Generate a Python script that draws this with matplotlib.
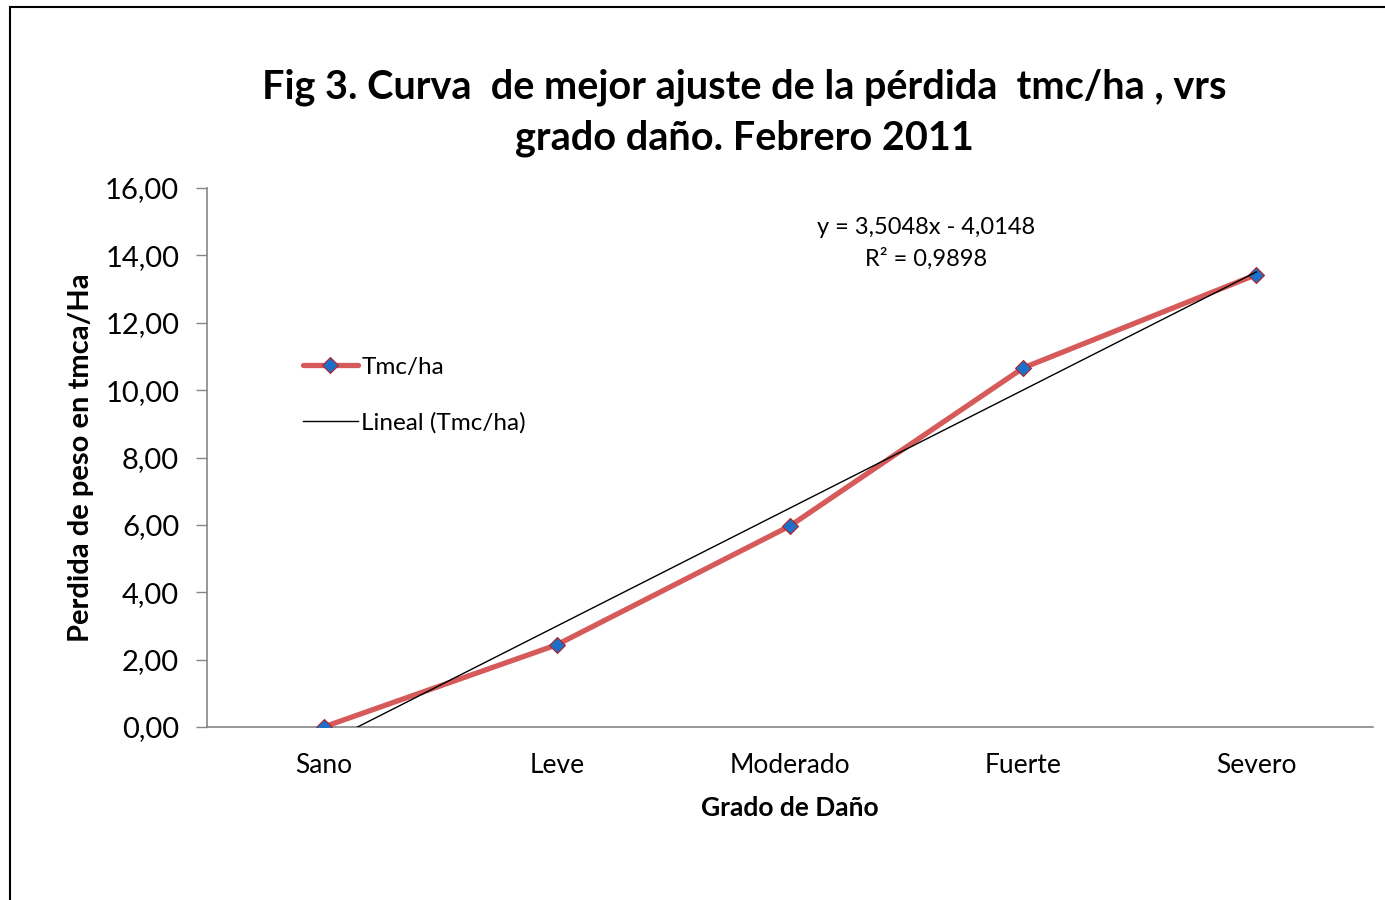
import numpy as np
import matplotlib
matplotlib.use("Agg")
import matplotlib.pyplot as plt
from matplotlib.patches import Rectangle
from matplotlib.ticker import FuncFormatter

## data
categorias = ["Sano", "Leve", "Moderado", "Fuerte", "Severo"]
tmc_ha = [0.00, 2.44, 5.97, 10.66, 13.43]
pendiente = 3.5048
intercepto = -4.0148
r2 = 0.9898

plt.rcParams["font.family"] = ["Lato", "DejaVu Sans"]

W, H = 1385, 900
fig = plt.figure(figsize=(W / 100, H / 100), dpi=100)

# outer chart border
fig.patches.append(Rectangle((10/W, -0.1), 1.2, (1 - 7/H) + 0.1, transform=fig.transFigure,
                             fill=False, edgecolor="black", lw=1.5))

ax = fig.add_axes([207/W, 173/H, 1166/W, 539/H])

x = np.arange(len(categorias)) + 0.5
ax.plot(x, tmc_ha, color="#D65A5A", lw=3.8, solid_capstyle="round", zorder=3,
        marker="D", ms=8.5, mfc="#1F6FC8", mec="#B22222", mew=0.8, label="Tmc/ha")

# trend line (x = 1..n in Excel terms)
xt = np.array([1, len(categorias)])
ax.plot(xt - 0.5, pendiente * xt + intercepto, color="black", lw=1.0, zorder=4,
        label="Lineal (Tmc/ha)")

ax.set_xlim(0, len(categorias))
ax.set_ylim(0, 16)
ax.set_yticks(np.arange(0, 17, 2))
ax.yaxis.set_major_formatter(FuncFormatter(lambda v, p: f"{v:.2f}".replace(".", ",")))
ax.set_xticks(x)
ax.set_xticklabels(categorias)
ax.tick_params(axis="x", length=0, pad=19, labelsize=19)
ax.tick_params(axis="y", length=8, width=1, color="#868686", pad=12, labelsize=21)

for s in ["top", "right"]:
    ax.spines[s].set_visible(False)
for s in ["left", "bottom"]:
    ax.spines[s].set_color("#868686")
    ax.spines[s].set_linewidth(1.2)

ax.set_xlabel("Grado de Daño", fontsize=19, fontweight="bold", labelpad=13)
ax.set_ylabel("Perdida de peso en tmca/Ha", fontsize=21, fontweight="bold", labelpad=8)

ax.text(926/W, 1 - 227/H, f"y = {pendiente:.4f}x - {abs(intercepto):.4f}".replace(".", ","),
        transform=fig.transFigure, ha="center", va="center", fontsize=17)
ax.text(926/W, 1 - 259/H, f"R² = {r2:.4f}".replace(".", ","),
        transform=fig.transFigure, ha="center", va="center", fontsize=17)

fig.text(744/W, 1 - 87/H, "Fig 3. Curva  de mejor ajuste de la pérdida  tmc/ha , vrs",
         ha="center", va="center", fontsize=28.5, fontweight="bold")
fig.text(744/W, 1 - 138/H, "grado daño. Febrero 2011",
         ha="center", va="center", fontsize=28.5, fontweight="bold")

leg = ax.legend(loc="upper left", bbox_to_anchor=(281/W, 1 - 335/H),
                bbox_transform=fig.transFigure, frameon=False, fontsize=17.5,
                handlelength=2.25, handletextpad=0.15, labelspacing=1.4)

fig.savefig("out.png", dpi=100)
